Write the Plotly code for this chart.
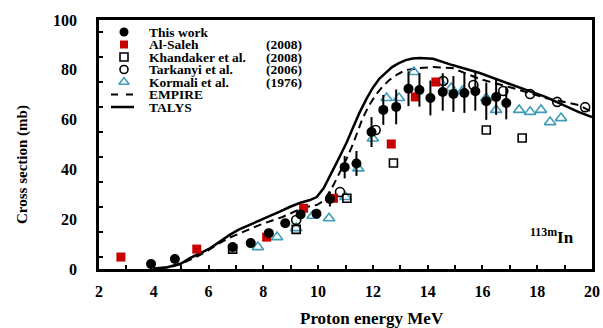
import plotly.graph_objects as go

# ---------------- data ----------------
this_E = [3.9, 4.77, 6.88, 7.54, 8.2, 8.8, 9.36, 9.94, 10.43, 10.97, 11.4, 11.95, 12.38, 12.85,
          13.3, 13.7, 14.1, 14.55, 14.94, 15.34, 15.74, 16.14, 16.5, 16.87]
this_sig = [2.0, 4.0, 8.8, 10.4, 14.4, 18.4, 21.9, 22.2, 28.1, 40.9, 42.4, 55.0, 63.9, 65.1,
            72.4, 71.9, 68.7, 71.1, 70.3, 70.7, 71.4, 67.4, 69.1, 66.7]
this_err = [0.5, 0.6, 0.8, 1.0, 1.2, 1.5, 1.8, 1.8, 3.0, 4.5, 5.0, 6.0, 6.0, 7.0,
            7.0, 6.7, 7.0, 7.5, 7.2, 8.0, 7.8, 7.5, 7.2, 6.6]

saleh_E = [2.8, 5.57, 8.12, 9.47, 10.56, 12.67, 13.55, 14.3]
saleh_sig = [4.8, 8.0, 12.8, 24.4, 28.4, 50.2, 69.1, 75.1]

khand_E = [6.88, 9.2, 11.05, 12.75, 16.14, 17.45]
khand_sig = [8.0, 15.9, 28.4, 42.6, 55.8, 52.6]

tark_E = [9.2, 10.8, 12.1, 14.57, 15.67, 16.76, 17.74, 18.73, 19.75]
tark_sig = [19.7, 30.9, 55.8, 75.5, 73.9, 71.5, 70.3, 67.1, 65.0]

korm_E = [7.8, 8.5, 9.2, 9.8, 10.4, 11.0, 11.47, 12.0, 12.5, 12.95, 13.5, 14.46, 14.86, 15.27,
          16.14, 16.5, 17.34, 17.74, 18.14, 18.47, 18.87]
korm_sig = [8.8, 12.8, 16.4, 21.4, 20.4, 28.9, 40.4, 52.4, 68.7, 68.7, 79.1, 75.1, 72.7, 71.5,
            68.7, 63.9, 63.9, 63.1, 63.9, 59.0, 60.6]

talys_E = [4.0, 4.5, 5.0, 5.3, 5.7, 6.05, 6.4, 6.77, 7.1, 7.5, 7.85, 8.2, 8.6, 8.96, 9.3, 9.7, 9.95,
           10.2, 10.4, 10.6, 10.8, 11.05, 11.26, 11.5, 11.77, 12.0, 12.24, 12.5, 12.7, 12.95, 13.2,
           13.45, 13.7, 14.2, 14.9, 15.9, 17.1, 18.3, 19.5, 20.0]
talys_sig = [0.2, 0.7, 2.2, 4.3, 6.4, 8.3, 10.9, 13.7, 15.8, 17.7, 19.4, 20.9, 23.0, 24.9, 26.4, 27.7,
             28.9, 32.4, 36.5, 41.0, 45.4, 51.0, 56.4, 62.5, 68.4, 72.8, 76.5, 79.3, 81.1, 82.7,
             83.9, 84.5, 84.7, 84.4, 81.9, 78.7, 73.9, 69.1, 63.1, 61.0]

empire_E = [4.2, 4.6, 5.0, 5.4, 5.68, 6.0, 6.4, 6.77, 7.14, 7.5, 7.87, 8.3, 8.7, 9.05, 9.4, 9.7, 9.95,
            10.15, 10.3, 10.55, 10.8, 11.05, 11.26, 11.45, 11.62, 11.85, 12.1, 12.35, 12.6, 12.9,
            13.2, 13.7, 14.2, 14.9, 15.9, 17.1, 18.3, 19.5, 20.0]
empire_sig = [0.2, 0.8, 2.0, 4.0, 5.6, 7.6, 10.4, 12.6, 14.4, 16.0, 17.7, 19.4, 20.9, 22.6, 24.4, 25.2,
              25.7, 27.0, 28.9, 33.5, 38.9, 44.5, 49.8, 55.2, 60.4, 65.5, 69.9, 73.2, 75.9, 78.2,
              79.9, 80.7, 81.1, 80.7, 76.3, 72.7, 68.7, 65.9, 63.1]

legend_names = ["This work", "Al-Saleh", "Khandaker et al.", "Tarkanyi et al.", "Kormali et al.",
                "EMPIRE", "TALYS"]
legend_years = ["", "(2008)", "(2008)", "(2006)", "(1976)", "", ""]

x_title = "Proton energy MeV"
y_title = "Cross section (mb)"
nuclide = "<sup>113m</sup>In"

RED = "#c80000"
TEAL = "#3f9db8"
FONT = "Liberation Serif"

# ---------------- figure ----------------
fig = go.Figure()

fig.add_trace(go.Scatter(x=empire_E, y=empire_sig, mode="lines", name="EMPIRE",
                         line=dict(color="black", width=2, dash="8px,5px"), showlegend=False))
fig.add_trace(go.Scatter(x=talys_E, y=talys_sig, mode="lines", name="TALYS",
                         line=dict(color="black", width=2.5), showlegend=False))
fig.add_trace(go.Scatter(x=korm_E, y=korm_sig, mode="markers", name="Kormali",
                         marker=dict(symbol="triangle-up-open", size=10, color=TEAL,
                                     line=dict(width=1.6, color=TEAL)), showlegend=False))
fig.add_trace(go.Scatter(x=khand_E, y=khand_sig, mode="markers", name="Khandaker",
                         marker=dict(symbol="square-open", size=8, color="black",
                                     line=dict(width=1.6, color="black")), showlegend=False))
fig.add_trace(go.Scatter(x=tark_E, y=tark_sig, mode="markers", name="Tarkanyi",
                         marker=dict(symbol="circle-open", size=9, color="black",
                                     line=dict(width=1.6, color="black")), showlegend=False))
fig.add_trace(go.Scatter(x=saleh_E, y=saleh_sig, mode="markers", name="Al-Saleh",
                         marker=dict(symbol="square", size=9, color=RED), showlegend=False))
fig.add_trace(go.Scatter(x=this_E, y=this_sig, mode="markers", name="This work",
                         error_y=dict(type="data", array=this_err, color="black", thickness=2, width=0),
                         marker=dict(symbol="circle", size=10, color="black"), showlegend=False))

# ---------------- manual legend (pixel-like overlay axes) ----------------
L, R, T, B = 99, 592, 20, 269
row_y = [32 + 12.5 * i for i in range(7)]
mx = 124
sym = [dict(symbol="circle", size=9, color="black"),
       dict(symbol="square", size=8, color=RED),
       dict(symbol="square-open", size=8, color="black", line=dict(width=1.6, color="black")),
       dict(symbol="circle-open", size=8, color="black", line=dict(width=1.6, color="black")),
       dict(symbol="triangle-up-open", size=9, color=TEAL, line=dict(width=1.6, color=TEAL))]
for i in range(5):
    fig.add_trace(go.Scatter(x=[mx], y=[row_y[i]], mode="markers", marker=sym[i],
                             xaxis="x2", yaxis="y2", showlegend=False, hoverinfo="skip"))
fig.add_trace(go.Scatter(x=[111, 134], y=[row_y[5], row_y[5]], mode="lines",
                         line=dict(color="black", width=2, dash="7px,8px"),
                         xaxis="x2", yaxis="y2", showlegend=False, hoverinfo="skip"))
fig.add_trace(go.Scatter(x=[111, 134], y=[row_y[6], row_y[6]], mode="lines",
                         line=dict(color="black", width=2.5),
                         xaxis="x2", yaxis="y2", showlegend=False, hoverinfo="skip"))

annotations = []
for i, (nm, yr) in enumerate(zip(legend_names, legend_years)):
    annotations.append(dict(x=147, y=row_y[i], xref="x2", yref="y2", text="<b>%s</b>" % nm,
                            showarrow=False, xanchor="left", yanchor="middle",
                            font=dict(family=FONT, size=13.5, color="black")))
    if yr:
        annotations.append(dict(x=264, y=row_y[i], xref="x2", yref="y2", text="<b>%s</b>" % yr,
                                showarrow=False, xanchor="left", yanchor="middle",
                                font=dict(family=FONT, size=13.5, color="black")))

annotations.append(dict(x=552, y=236, xref="x2", yref="y2", text="<b>%s</b>" % nuclide,
                        showarrow=False, xanchor="center", yanchor="middle",
                        font=dict(family=FONT, size=17, color="black")))
annotations.append(dict(x=(372 - L) / (R - L), y=(B - 318) / (B - T), xref="paper", yref="paper",
                        text="<b>%s</b>" % x_title, showarrow=False, xanchor="center",
                        yanchor="middle", font=dict(family=FONT, size=17, color="black")))
annotations.append(dict(x=(22 - L) / (R - L), y=(B - 165) / (B - T), xref="paper", yref="paper",
                        text="<b>%s</b>" % y_title, showarrow=False, xanchor="center",
                        yanchor="middle", textangle=-90,
                        font=dict(family=FONT, size=15, color="black")))

tickfont = dict(family=FONT, size=16, color="black", weight="bold")

fig.update_layout(
    width=603, height=328,
    margin=dict(l=L, r=603 - R, t=T, b=328 - B, pad=0, autoexpand=False),
    paper_bgcolor="white", plot_bgcolor="white",
    showlegend=False,
    annotations=annotations,
    xaxis=dict(range=[2, 20], tick0=2, dtick=2, ticks="inside", ticklen=4, tickwidth=1.5,
               tickcolor="black", showline=True, linewidth=2.5, linecolor="black", mirror=True,
               showgrid=False, zeroline=False, tickfont=tickfont, ticklabelstandoff=6,
               automargin=False,
               minor=dict(ticks="inside", dtick=1, ticklen=4, tickwidth=1.5, tickcolor="black",
                          showgrid=False)),
    yaxis=dict(range=[0, 100], tick0=0, dtick=20, ticks="", showline=True, linewidth=2.5,
               linecolor="black", mirror=True, showgrid=False, zeroline=False,
               tickfont=tickfont, ticklabelstandoff=16, automargin=False,
               minor=dict(ticks="inside", tick0=5, dtick=10, ticklen=4, tickwidth=1.5,
                          tickcolor="black", showgrid=False)),
    xaxis2=dict(overlaying="x", anchor="y2", range=[L, R], visible=False, showgrid=False,
                zeroline=False, automargin=False),
    yaxis2=dict(overlaying="y", anchor="x2", range=[B, T], visible=False, showgrid=False,
                zeroline=False, automargin=False),
)

fig.write_html("out.html")
